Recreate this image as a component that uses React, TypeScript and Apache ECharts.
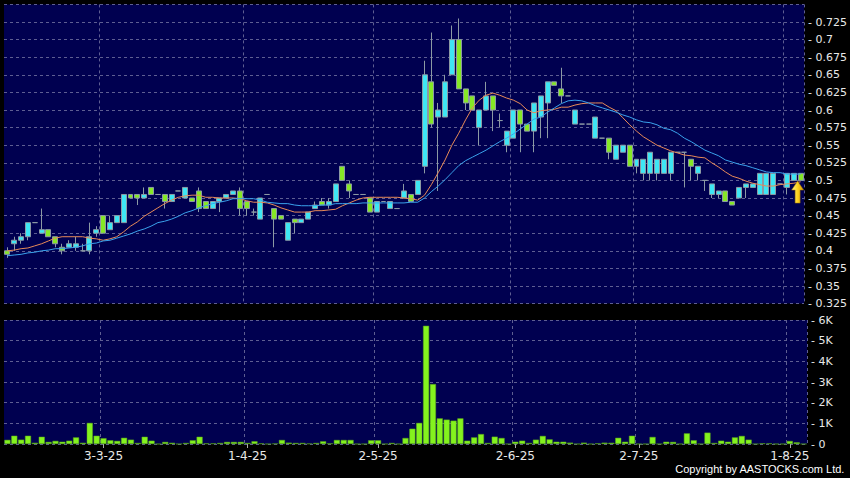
import { useEffect, useRef } from "react";
import * as echarts from "echarts";

const dates = [
  "11-2-25","12-2-25","13-2-25","14-2-25","17-2-25","18-2-25","19-2-25","20-2-25","21-2-25","24-2-25","25-2-25","26-2-25","27-2-25","28-2-25",
  "3-3-25","4-3-25","5-3-25","6-3-25","7-3-25","10-3-25","11-3-25","12-3-25","13-3-25","14-3-25","17-3-25","18-3-25","19-3-25","20-3-25","21-3-25","24-3-25","25-3-25","26-3-25","27-3-25","28-3-25","31-3-25",
  "1-4-25","2-4-25","3-4-25","7-4-25","8-4-25","9-4-25","10-4-25","11-4-25","14-4-25","15-4-25","16-4-25","17-4-25","22-4-25","23-4-25","24-4-25","25-4-25","28-4-25","29-4-25","30-4-25",
  "2-5-25","6-5-25","7-5-25","8-5-25","9-5-25","12-5-25","13-5-25","14-5-25","15-5-25","16-5-25","19-5-25","20-5-25","21-5-25","22-5-25","23-5-25","26-5-25","27-5-25","28-5-25","29-5-25","30-5-25",
  "2-6-25","3-6-25","4-6-25","5-6-25","6-6-25","9-6-25","10-6-25","11-6-25","12-6-25","13-6-25","16-6-25","17-6-25","18-6-25","19-6-25","20-6-25","23-6-25","24-6-25","25-6-25",
  "2-7-25","3-7-25","4-7-25","7-7-25","8-7-25","9-7-25","10-7-25","11-7-25","14-7-25","15-7-25","16-7-25","17-7-25","18-7-25","21-7-25","22-7-25","23-7-25","24-7-25","25-7-25","28-7-25","29-7-25","30-7-25","31-7-25",
  "1-8-25","4-8-25","5-8-25",
];

const labelDates = ["3-3-25", "1-4-25", "2-5-25", "2-6-25", "2-7-25", "1-8-25"];

const opens = [
  0.400,0.410,0.415,0.420,0.440,0.425,0.430,0.420,0.405,0.405,
  0.405,0.400,0.400,0.425,0.450,0.430,0.440,0.440,0.480,0.480,
  0.475,0.490,0.480,0.480,0.470,0.485,0.475,0.475,0.485,0.470,
  0.460,0.470,0.475,0.480,0.485,0.470,0.455,0.445,0.480,0.460,
  0.450,0.415,0.445,0.440,0.445,0.460,0.470,0.465,0.470,0.520,
  0.495,0.480,0.480,0.475,0.455,0.470,0.460,0.460,0.475,0.480,
  0.480,0.520,0.640,0.590,0.590,0.650,0.700,0.630,0.620,0.575,
  0.600,0.620,0.585,0.550,0.560,0.600,0.580,0.570,0.590,0.610,
  0.640,0.630,0.620,0.580,0.580,0.580,0.560,0.560,0.560,0.530,
  0.540,0.550,0.520,0.510,0.510,0.510,0.510,0.510,0.540,0.540,
  0.530,0.510,0.500,0.480,0.480,0.485,0.470,0.475,0.490,0.490,
  0.480,0.480,0.480,0.495,0.490,0.500,0.510,
];
const closes = [
  0.395,0.415,0.420,0.440,0.440,0.430,0.420,0.410,0.400,0.410,
  0.410,0.400,0.420,0.430,0.425,0.440,0.450,0.480,0.475,0.475,
  0.480,0.480,0.480,0.470,0.480,0.485,0.490,0.470,0.460,0.460,
  0.470,0.475,0.480,0.485,0.460,0.460,0.455,0.475,0.480,0.445,
  0.445,0.440,0.440,0.445,0.455,0.465,0.465,0.470,0.495,0.500,
  0.485,0.480,0.480,0.455,0.470,0.470,0.470,0.460,0.485,0.470,
  0.500,0.650,0.580,0.600,0.640,0.700,0.630,0.610,0.600,0.600,
  0.620,0.600,0.585,0.570,0.600,0.580,0.570,0.610,0.620,0.640,
  0.635,0.620,0.620,0.600,0.580,0.580,0.590,0.560,0.540,0.550,
  0.550,0.520,0.530,0.530,0.540,0.530,0.530,0.540,0.540,0.540,
  0.520,0.520,0.500,0.495,0.485,0.470,0.465,0.490,0.495,0.495,
  0.510,0.510,0.510,0.495,0.510,0.510,0.500,
];
const lows = [
  0.390,0.400,0.410,0.415,0.440,0.425,0.420,0.405,0.395,0.405,
  0.400,0.400,0.395,0.420,0.425,0.430,0.440,0.440,0.475,0.465,
  0.475,0.480,0.480,0.460,0.470,0.485,0.475,0.470,0.455,0.460,
  0.460,0.455,0.475,0.480,0.450,0.450,0.450,0.445,0.480,0.405,
  0.445,0.415,0.425,0.440,0.445,0.460,0.465,0.460,0.470,0.500,
  0.475,0.480,0.480,0.455,0.455,0.470,0.460,0.460,0.475,0.470,
  0.480,0.510,0.575,0.485,0.590,0.650,0.630,0.600,0.600,0.550,
  0.600,0.570,0.575,0.540,0.560,0.540,0.570,0.540,0.560,0.560,
  0.635,0.610,0.620,0.580,0.580,0.580,0.560,0.560,0.530,0.530,
  0.540,0.520,0.510,0.500,0.500,0.500,0.510,0.500,0.540,0.490,
  0.500,0.500,0.485,0.475,0.475,0.470,0.465,0.475,0.475,0.490,
  0.480,0.480,0.480,0.495,0.480,0.500,0.500,
];
const highs = [
  0.405,0.420,0.425,0.440,0.440,0.460,0.430,0.420,0.410,0.415,
  0.420,0.410,0.440,0.435,0.450,0.450,0.450,0.480,0.480,0.480,
  0.490,0.490,0.480,0.480,0.480,0.485,0.490,0.475,0.490,0.470,
  0.470,0.475,0.480,0.485,0.490,0.470,0.460,0.475,0.480,0.460,
  0.450,0.440,0.445,0.445,0.455,0.470,0.475,0.475,0.495,0.520,
  0.500,0.480,0.480,0.475,0.470,0.470,0.470,0.460,0.495,0.480,
  0.500,0.670,0.710,0.610,0.650,0.720,0.730,0.630,0.620,0.600,
  0.640,0.620,0.595,0.570,0.600,0.600,0.580,0.610,0.620,0.640,
  0.640,0.660,0.620,0.600,0.580,0.580,0.590,0.560,0.560,0.550,
  0.550,0.550,0.530,0.530,0.540,0.530,0.530,0.540,0.540,0.540,
  0.530,0.520,0.500,0.495,0.485,0.485,0.470,0.490,0.495,0.495,
  0.510,0.510,0.510,0.495,0.510,0.510,0.510,
];

const volumes = [
  200,400,210,400,60,350,100,150,110,160,
  320,60,1020,400,280,180,150,300,210,50,
  350,160,0,100,60,0,50,180,350,30,
  30,50,100,100,100,50,130,30,0,20,
  195,65,50,50,20,50,130,30,195,195,
  195,0,0,180,180,0,50,0,290,740,
  1020,5720,2900,1240,1180,1130,1240,160,320,480,
  50,355,290,0,110,160,50,210,390,225,
  110,110,65,0,65,0,30,65,60,300,
  110,400,0,0,340,0,110,100,0,515,
  180,0,550,50,160,110,320,390,210,0,
  30,30,0,0,145,80,0,
];

const maShort = [
  0.400,0.401,0.403,0.404,0.407,0.410,0.414,0.418,0.420,0.420,
  0.420,0.420,0.418,0.417,0.415,0.417,0.420,0.427,0.435,0.441,
  0.449,0.455,0.461,0.467,0.472,0.476,0.478,0.479,0.479,0.476,
  0.476,0.475,0.475,0.475,0.474,0.471,0.469,0.469,0.468,0.465,
  0.461,0.458,0.455,0.455,0.455,0.457,0.457,0.458,0.459,0.464,
  0.468,0.472,0.475,0.476,0.476,0.476,0.476,0.476,0.475,0.474,
  0.472,0.479,0.494,0.511,0.529,0.550,0.567,0.586,0.603,0.614,
  0.621,0.624,0.621,0.617,0.614,0.609,0.600,0.596,0.599,0.600,
  0.601,0.604,0.604,0.607,0.609,0.610,0.610,0.610,0.604,0.599,
  0.589,0.579,0.570,0.562,0.556,0.550,0.546,0.542,0.539,0.536,
  0.535,0.533,0.532,0.525,0.519,0.512,0.506,0.503,0.499,0.496,
  0.494,0.492,0.492,0.494,0.495,0.496,0.498,
];
const maLong = [
  0.393,0.394,0.395,0.397,0.398,0.400,0.401,0.403,0.403,0.404,
  0.405,0.407,0.410,0.411,0.414,0.415,0.418,0.421,0.424,0.428,
  0.431,0.435,0.440,0.442,0.445,0.449,0.454,0.457,0.461,0.464,
  0.467,0.469,0.471,0.474,0.474,0.474,0.474,0.472,0.469,0.468,
  0.467,0.467,0.465,0.464,0.464,0.464,0.465,0.465,0.467,0.467,
  0.467,0.467,0.468,0.468,0.468,0.468,0.468,0.468,0.468,0.469,
  0.469,0.475,0.484,0.492,0.501,0.511,0.521,0.528,0.533,0.538,
  0.543,0.549,0.555,0.560,0.566,0.573,0.580,0.587,0.590,0.597,
  0.603,0.609,0.613,0.614,0.613,0.610,0.606,0.603,0.600,0.597,
  0.593,0.590,0.586,0.583,0.582,0.579,0.574,0.572,0.567,0.560,
  0.555,0.549,0.543,0.539,0.535,0.529,0.526,0.523,0.521,0.518,
  0.515,0.512,0.511,0.511,0.509,0.509,0.509,
];

const FONT = "DejaVu Sans";
const GRID_LINE = { color: "#5e5e92", width: 1, type: [3, 3] as number[] };

export default function App() {
  const ref = useRef<HTMLDivElement>(null);

  useEffect(() => {
    if (!ref.current) return;
    const chart = echarts.init(ref.current, null, { renderer: "svg" });
    const showIdx = (i: number) => labelDates.includes(dates[i]);
    const candles = dates.map((_, i) => [opens[i], closes[i], lows[i], highs[i]]);
    const last = dates.length - 1;

    chart.setOption({
      animation: false,
      backgroundColor: "#000000",
      grid: [
        { left: 4, right: 43, top: 4.4, bottom: 174.4, show: true, backgroundColor: "#000050", borderWidth: 0 },
        { left: 4, right: 43, top: 320, bottom: 34, show: true, backgroundColor: "#000050", borderWidth: 0 },
      ],
      xAxis: [
        {
          type: "category", gridIndex: 0, data: dates, boundaryGap: true,
          axisLine: { show: false }, axisTick: { show: false }, axisLabel: { show: false },
          splitLine: { show: true, interval: (i: number) => showIdx(i), lineStyle: GRID_LINE },
        },
        {
          type: "category", gridIndex: 1, data: dates, boundaryGap: true,
          axisLine: { show: false },
          axisTick: { show: true, alignWithLabel: true, interval: (i: number) => showIdx(i), length: 4, lineStyle: { color: "#aaaaaa" } },
          axisLabel: { interval: (i: number) => showIdx(i), color: "#e8e8e8", fontFamily: FONT, fontSize: 12, margin: 6 },
          splitLine: { show: true, interval: (i: number) => showIdx(i), lineStyle: GRID_LINE },
        },
      ],
      yAxis: [
        {
          type: "value", gridIndex: 0, position: "right", min: 0.325, max: 0.75, interval: 0.025,
          axisLine: { show: false }, axisTick: { show: false },
          axisLabel: {
            showMaxLabel: false, color: "#e8e8e8", fontFamily: FONT, fontSize: 11, margin: 4,
            formatter: (v: number) => "- " + parseFloat(v.toFixed(3)),
          },
          splitLine: { show: true, lineStyle: GRID_LINE },
        },
        {
          type: "value", gridIndex: 1, position: "right", min: 0, max: 6000, interval: 1000,
          axisLine: { show: false }, axisTick: { show: false },
          axisLabel: {
            color: "#e8e8e8", fontFamily: FONT, fontSize: 11, margin: 4,
            formatter: (v: number) => "- " + (v === 0 ? "0" : v / 1000 + "K"),
          },
          splitLine: { show: true, lineStyle: GRID_LINE },
        },
      ],
      series: [
        {
          type: "candlestick", xAxisIndex: 0, yAxisIndex: 0, data: candles, barWidth: "80%",
          itemStyle: { color: "#3ee6f4", color0: "#86e826", borderColor: "#8c9aa4", borderColor0: "#8c9aa4", borderWidth: 1 },
          markPoint: {
            symbol: "path://M6,0 L12,9 L8.5,9 L8.5,22 L3.5,22 L3.5,9 L0,9 Z",
            symbolSize: [12, 22],
            symbolOffset: [-3, "50%"],
            label: { show: false },
            itemStyle: {
              color: new echarts.graphic.LinearGradient(0, 0, 1, 0, [
                { offset: 0, color: "#fff48a" },
                { offset: 0.5, color: "#ffd21e" },
                { offset: 1, color: "#d99a00" },
              ]),
              borderColor: "#9a7000", borderWidth: 0.5,
            },
            data: [{ coord: [dates[last], 0.499] }],
          },
        },
        {
          type: "line", xAxisIndex: 0, yAxisIndex: 0, data: maShort, symbol: "none",
          lineStyle: { color: "#e88a58", width: 1 },
        },
        {
          type: "line", xAxisIndex: 0, yAxisIndex: 0, data: maLong, symbol: "none",
          lineStyle: { color: "#3aa2ec", width: 1 },
        },
        {
          type: "bar", xAxisIndex: 1, yAxisIndex: 1, data: volumes, barWidth: "88%",
          itemStyle: { color: "#84f21e", borderColor: "#5aa818", borderWidth: 0.5 },
        },
      ],
      graphic: [
        {
          type: "text", right: 5, top: 463,
          style: { text: "Copyright by AASTOCKS.com Ltd.", fill: "#ffffff", font: "11px 'Liberation Sans'" },
        },
      ],
    });

    return () => chart.dispose();
  }, []);

  return (
    <div
      ref={ref}
      style={{ position: "fixed", left: 0, top: 0, width: 850, height: 478, background: "#000" }}
    />
  );
}
